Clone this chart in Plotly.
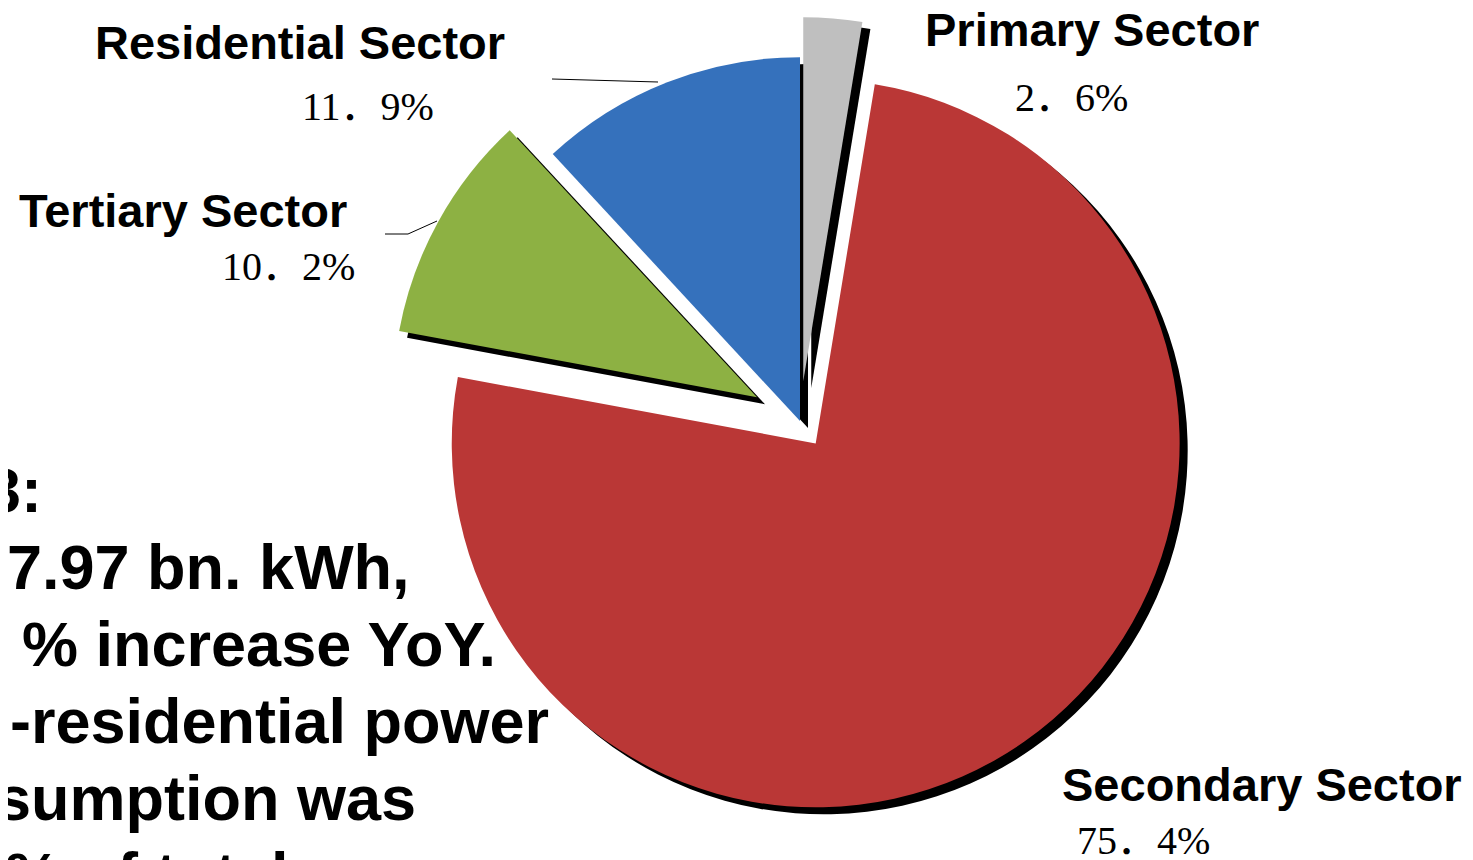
import plotly.graph_objects as go

# ---- data ----
sectors = ["Primary Sector", "Secondary Sector", "Tertiary Sector", "Residential Sector"]
shares = [2.6, 75.4, 10.2, 11.9]
share_labels = ["2．6%", "75．4%", "10．2%", "11．9%"]
side_text = ["3:", "7.97 bn. kWh,", "% increase YoY.", "-residential power", "sumption was", "% of total"]

# ---- style ----
colors = ["#BFBFBF", "#BA3736", "#8DB143", "#3571BC"]
pulls = [0.11, 0.075, 0.135, 0.0]

W, H = 1473, 860
OFF = 8  # page body margin offset
cx, cy, r = 800 - OFF, 421 - OFF, 364
maxpull = max(pulls)
half = r * (1 + maxpull)


def clamp(v):
    return min(1.0, max(0.0, v))


def dom(dx=0, dy=0):
    x0 = (cx + dx - half) / W
    x1 = (cx + dx + half) / W
    yc = 1 - (cy + dy) / H
    return dict(x=[clamp(x0), clamp(x1)], y=[clamp(yc - half / H), clamp(yc + half / H)])


fig = go.Figure()
# shadow
fig.add_trace(go.Pie(
    labels=sectors, values=shares, sort=False, direction="clockwise", rotation=0,
    pull=pulls, marker=dict(colors=["#000000"] * 4, line=dict(width=0)),
    textinfo="none", hoverinfo="skip", showlegend=False, domain=dom(8, 7),
))
# main pie
fig.add_trace(go.Pie(
    labels=sectors, values=shares, sort=False, direction="clockwise", rotation=0,
    pull=pulls, marker=dict(colors=colors, line=dict(width=0)),
    textinfo="none", showlegend=False, domain=dom(0, 0),
))

ann = []


def px(x, y):
    return (x - OFF) / W, 1 - (y - OFF) / H


name_pos = [(1092, 31), (1262, 785), (183, 211), (300, 44)]
pct_pos = [(1071, 98), (1143, 840), (288, 266), (368, 106)]
for i in range(4):
    x, y = px(name_pos[i][0], name_pos[i][1] - 1)
    ann.append(dict(x=x, y=y, xref="paper", yref="paper", text="<b>%s</b>" % sectors[i],
                    showarrow=False, xanchor="center", yanchor="middle",
                    font=dict(family="Liberation Sans, Arial", size=47, color="#000000")))
    x, y = px(pct_pos[i][0], pct_pos[i][1])
    ann.append(dict(x=x, y=y, xref="paper", yref="paper", text=share_labels[i],
                    showarrow=False, xanchor="center", yanchor="middle",
                    font=dict(family="Liberation Serif, Noto Sans CJK SC", size=40, color="#000000")))

right_edges = [44, 412, 498, 551, 418, 290]
for k, t in enumerate(side_text):
    x, y = px(right_edges[k], 490 + 77 * k)
    ann.append(dict(x=x, y=y, xref="paper", yref="paper", text="<b>%s</b>" % t,
                    showarrow=False, xanchor="right", yanchor="middle",
                    font=dict(family="Liberation Sans, Arial", size=63, color="#000000")))

shapes = []
for (x0, y0, x1, y1) in [(552, 79, 658, 82), (385, 234, 408, 234), (408, 234, 437, 221)]:
    a = px(x0, y0)
    b = px(x1, y1)
    shapes.append(dict(type="line", xref="paper", yref="paper", x0=a[0], y0=a[1], x1=b[0], y1=b[1],
                       line=dict(color="#000000", width=1)))

fig.update_layout(
    width=W, height=H, margin=dict(l=0, r=0, t=0, b=0),
    paper_bgcolor="#FFFFFF", plot_bgcolor="#FFFFFF",
    annotations=ann, shapes=shapes, showlegend=False,
)

fig.write_html("out.html")
